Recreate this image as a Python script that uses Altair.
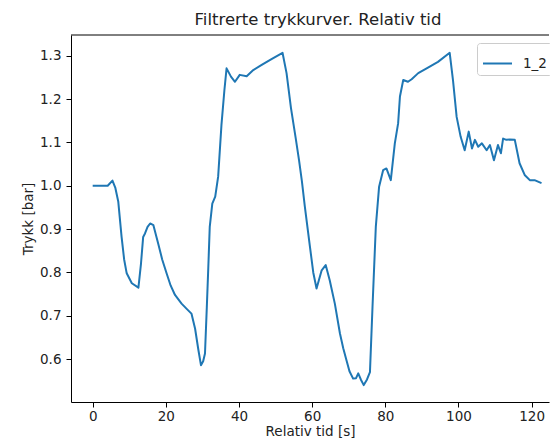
import altair as alt
import pandas as pd

# Relativ tid [s]
t = [0, 2, 4.1, 5.4, 6.2, 7.0, 7.9, 8.6, 9.3, 10.7, 12.5, 13.2, 13.8, 14.3, 15.0, 15.7,
     16.6, 17.9, 19.0, 20.2, 21.3, 22.5, 24.3, 25.7, 27.0, 28.0, 28.9, 29.6, 30.2, 30.7,
     31.2, 31.6, 32.0, 32.7, 33.5, 34.3, 35.2, 36.0, 36.6, 37.8, 38.9, 40.2, 42.1, 43.9,
     46.2, 49.0, 51.9, 53.0, 54.2, 55.5, 56.4, 57.2, 58.0, 59.4, 60.3, 61.2, 62.6, 63.7,
     64.8, 66.2, 67.6, 68.5, 69.4, 70.2, 71.2, 72.0, 72.6, 73.3, 74.1, 75.0, 75.8, 76.5,
     77.4, 78.3, 79.4, 80.3, 81.5, 82.6, 83.5, 84.0, 84.9, 86.2, 87.2, 89.0, 91.3, 94.4,
     97.6, 98.5, 99.5, 100.6, 101.7, 102.8, 103.7, 104.5, 105.4, 106.4, 107.7, 108.6,
     109.7, 110.8, 111.6, 112.2, 113.1, 114.0, 115.4, 116.7, 118.1, 119.5, 120.8, 122.7]
# Trykk [bar]
p = [1.0, 1.0, 1.0, 1.012, 0.995, 0.963, 0.882, 0.83, 0.798, 0.775, 0.765, 0.82, 0.882,
     0.89, 0.905, 0.913, 0.909, 0.867, 0.83, 0.798, 0.77, 0.748, 0.728, 0.716, 0.705,
     0.67, 0.621, 0.586, 0.595, 0.613, 0.72, 0.81, 0.905, 0.959, 0.975, 1.021, 1.14, 1.22,
     1.271, 1.252, 1.240, 1.256, 1.253, 1.267, 1.279, 1.293, 1.307, 1.26, 1.18, 1.11,
     1.06, 1.01, 0.952, 0.859, 0.80, 0.763, 0.805, 0.817, 0.782, 0.728, 0.659, 0.625,
     0.597, 0.572, 0.555, 0.556, 0.567, 0.553, 0.540, 0.553, 0.570, 0.721, 0.905, 0.998,
     1.036, 1.040, 1.013, 1.098, 1.144, 1.206, 1.244, 1.240, 1.246, 1.260, 1.271, 1.286,
     1.307, 1.244, 1.159, 1.113, 1.082, 1.125, 1.086, 1.106, 1.090, 1.098, 1.082, 1.094,
     1.059, 1.094, 1.075, 1.109, 1.106, 1.107, 1.106, 1.052, 1.025, 1.013, 1.013, 1.006]
series_name = "1_2"
x_ticks = [0, 20, 40, 60, 80, 100, 120]
y_ticks = [0.6, 0.7, 0.8, 0.9, 1.0, 1.1, 1.2, 1.3]

df = pd.DataFrame({"t": t, "p": p, "serie": [series_name] * len(t)})

W, H = 478, 367
FONT = "DejaVu Sans"
TXT = "#222222"

line = alt.Chart(df).mark_line(strokeWidth=2, strokeJoin="round", clip=True).encode(
    x=alt.X("t:Q",
            scale=alt.Scale(domain=[-5.93, 124.75], nice=False, zero=False),
            axis=alt.Axis(values=x_ticks, title="Relativ tid [s]", format="d")),
    y=alt.Y("p:Q",
            scale=alt.Scale(domain=[0.501, 1.348], nice=False, zero=False),
            axis=alt.Axis(values=y_ticks, format=".1f", title="Trykk [bar]")),
    color=alt.Color("serie:N", scale=alt.Scale(range=["#1f77b4"]),
                    legend=alt.Legend(title=None, orient="none", legendX=406, legendY=8,
                                      padding=5, strokeColor="#cccccc",
                                      fillColor="rgba(255,255,255,0.8)", cornerRadius=3,
                                      symbolType="stroke", symbolSize=841,
                                      symbolStrokeWidth=2, labelFontSize=13.5,
                                      labelFont=FONT, labelColor=TXT, labelOffset=10)),
)

top = alt.Chart(pd.DataFrame({"a": [0]})).mark_rule(color="black", strokeWidth=1).encode(
    x=alt.value(0), x2=alt.value(W), y=alt.value(0)
)

chart = alt.layer(line, top).properties(
    width=W, height=H,
    autosize="none",
    padding={"left": 63, "top": 27, "right": 1, "bottom": 36},
    title=alt.TitleParams(text="Filtrerte trykkurver. Relativ tid", fontSize=16.5,
                          font=FONT, fontWeight="normal", color=TXT, anchor="middle",
                          frame="group", offset=6, dx=8),
).configure_view(stroke=None).configure_axis(
    grid=False, domainColor="black", tickColor="black", labelColor=TXT, titleColor=TXT,
    labelFont=FONT, titleFont=FONT, labelFontSize=13.5, titleFontSize=13.5,
    titleFontWeight="normal", tickSize=5, domainWidth=1, tickWidth=1,
).configure_axisX(labelPadding=2, titleY=33, titleBaseline="alphabetic").configure_axisY(
    labelPadding=5, titlePadding=4)

chart.save("out.html", embed_options={"renderer": "svg", "actions": False})
